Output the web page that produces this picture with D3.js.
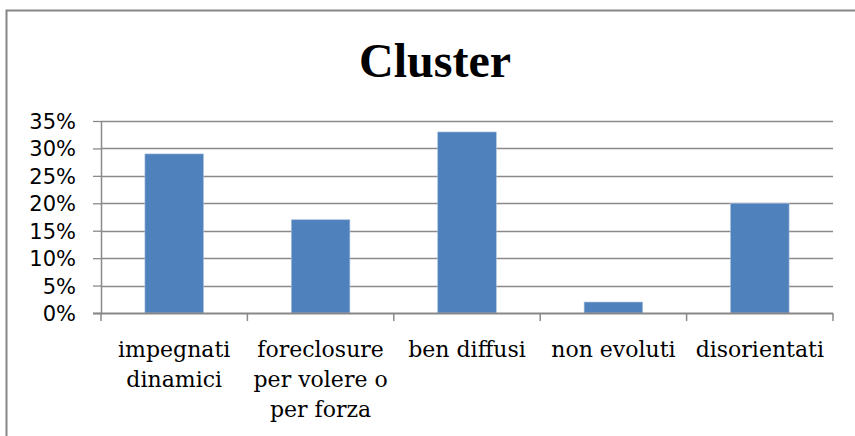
<!DOCTYPE html>
<html>
<head>
<meta charset="utf-8">
<script src="https://cdn.jsdelivr.net/npm/d3@7"></script>
<style>
  body { margin: 0; background: #fff; }
  svg { display: block; }
</style>
</head>
<body>
<div class="chart"></div>
<script>
// chart data
var categories = ["impegnati\ndinamici", "foreclosure\nper volere o\nper forza", "ben diffusi", "non evoluti", "disorientati"];
var values = [0.29, 0.17, 0.33, 0.02, 0.20];
var yTicks = [0, 0.05, 0.10, 0.15, 0.20, 0.25, 0.30, 0.35];
var title = "Cluster";

var width = 855;
var height = 436;
var margin = {top: 121, right: 22, bottom: 123, left: 101};
var plotW = width - margin.left - margin.right;
var plotH = height - margin.top - margin.bottom;

var x = d3.scaleBand()
  .domain(categories)
  .range([0, plotW])
  .paddingInner(0.6)
  .paddingOuter(0.3);

var y = d3.scaleLinear()
  .domain([0, 0.35])
  .range([plotH, 0]);

var svg = d3.select(".chart").append("svg")
  .attr("width", width)
  .attr("height", height);

// outer chart frame (runs off the right/bottom edge like the original)
svg.append("rect")
  .attr("x", 6.5)
  .attr("y", 10.5)
  .attr("width", 900)
  .attr("height", 500)
  .style("fill", "none")
  .style("stroke", "#868686")
  .style("stroke-width", 2);

svg.append("text")
  .attr("x", 435)
  .attr("y", 77)
  .attr("text-anchor", "middle")
  .style("font-family", "'Liberation Serif', serif")
  .style("font-weight", "bold")
  .style("font-size", "48px")
  .style("fill", "#000")
  .text(title);

var g = svg.append("g")
  .attr("transform", `translate(${margin.left}, ${margin.top})`);

// gridlines
g.selectAll(".grid")
  .data(yTicks.slice(1))
  .enter().append("line")
    .attr("class", "grid")
    .attr("x1", 0)
    .attr("x2", plotW)
    .attr("y1", d => Math.round(y(d)) + 0.5)
    .attr("y2", d => Math.round(y(d)) + 0.5)
    .style("stroke", "#8a8a8a")
    .style("stroke-width", 1.3);

// bars
g.selectAll(".bar")
  .data(values)
  .enter().append("rect")
    .attr("class", "bar")
    .attr("x", (d, i) => x(categories[i]))
    .attr("y", d => y(d))
    .attr("width", x.bandwidth())
    .attr("height", d => plotH - y(d))
    .style("fill", "#4f81bd")
    .style("stroke", "#a9c0de")
    .style("stroke-width", 0.6);

// y axis
var yAxis = d3.axisLeft(y)
  .tickValues(yTicks)
  .tickSize(8)
  .tickPadding(17)
  .tickFormat(d3.format(".0%"));

var gY = g.append("g").call(yAxis);
gY.select(".domain").remove();
gY.selectAll(".tick line").style("stroke", "#8a8a8a").style("stroke-width", 1.3);
gY.selectAll(".tick text")
  .style("font-family", "'DejaVu Sans', sans-serif")
  .style("font-size", "21px")
  .style("fill", "#000")
  .attr("dy", "0.36em");

g.append("line")
  .attr("x1", 0.5).attr("x2", 0.5)
  .attr("y1", 0).attr("y2", plotH)
  .style("stroke", "#8a8a8a")
  .style("stroke-width", 1.5);

// x axis
var boundaries = d3.range(categories.length + 1).map(i => i * x.step());
g.selectAll(".xtick")
  .data(boundaries)
  .enter().append("line")
    .attr("class", "xtick")
    .attr("x1", d => d).attr("x2", d => d)
    .attr("y1", plotH).attr("y2", plotH + 8)
    .style("stroke", "#8a8a8a")
    .style("stroke-width", 1.5);

g.append("line")
  .attr("x1", -8).attr("x2", plotW)
  .attr("y1", plotH + 0.5).attr("y2", plotH + 0.5)
  .style("stroke", "#878787")
  .style("stroke-width", 2.2);

var labels = g.selectAll(".cat")
  .data(categories)
  .enter().append("text")
    .attr("class", "cat")
    .attr("text-anchor", "middle")
    .attr("transform", d => `translate(${x(d) + x.bandwidth() / 2}, ${plotH + 44})`)
    .style("font-family", "'DejaVu Serif', serif")
    .style("font-size", "22px")
    .style("fill", "#000");

labels.selectAll("tspan")
  .data(d => d.split("\n"))
  .enter().append("tspan")
    .attr("x", 0)
    .attr("y", (d, i) => i * 30)
    .text(d => d);
</script>
</body>
</html>
